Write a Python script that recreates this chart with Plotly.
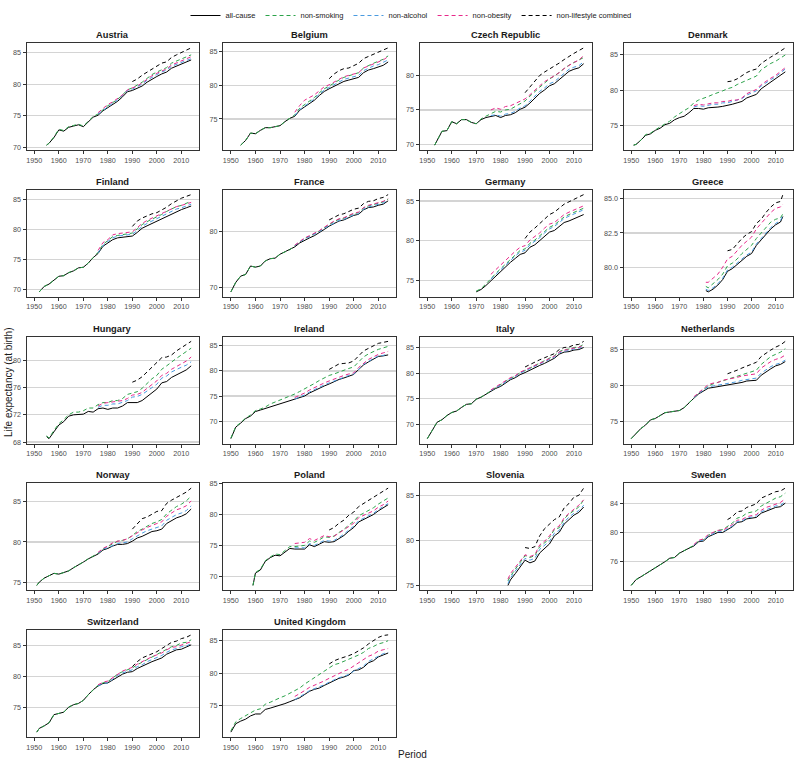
import plotly.graph_objects as go

# ---------------- data (life expectancy at birth) ----------------
# all-cause / non-smoking series start at the country's first year,
# non-alcohol / non-obesity from 1976 (or first year), combined from 1990.
AT_start, AT_end = 1955, 2014
AT_all = [70.4, 70.7, 71.6, 72.8, 72.6, 73.2, 73.4, 73.6, 73.3, 74.0, 74.8, 75.1, 75.8, 76.3, 76.8, 77.3, 78.0, 78.8, 79.0, 79.3, 79.7, 80.3, 80.8, 81.2, 81.6, 81.9, 82.5, 82.8, 83.1, 83.4, 83.8]
AT_smk = [70.4, 70.7, 71.7, 72.9, 72.7, 73.3, 73.5, 73.7, 73.4, 74.1, 74.9, 75.3, 76.0, 76.6, 77.1, 77.6, 78.3, 79.1, 79.4, 79.8, 80.3, 80.9, 81.5, 81.9, 82.3, 82.6, 83.3, 83.6, 84.0, 84.2, 84.6]
AT_alc = [75.3, 75.9, 76.5, 77.0, 77.5, 78.2, 79.0, 79.2, 79.6, 80.0, 80.6, 81.1, 81.5, 81.9, 82.2, 82.8, 83.1, 83.5, 83.7, 84.0]
AT_obe = [75.5, 76.2, 76.8, 77.2, 77.7, 78.3, 79.1, 79.4, 79.7, 80.2, 80.8, 81.3, 81.7, 82.1, 82.4, 83.0, 83.3, 83.7, 84.0, 84.3]
AT_comb = [80.4, 80.8, 81.4, 81.9, 82.4, 82.9, 83.3, 83.5, 84.2, 84.6, 85.0, 85.3, 85.7]
AT_ticks = [70, 75, 80, 85]

BE_start, BE_end = 1954, 2014
BE_all = [71.1, 71.8, 72.9, 72.8, 73.3, 73.7, 73.7, 73.9, 74.0, 74.6, 75.1, 75.4, 76.3, 76.8, 77.3, 77.8, 78.5, 79.1, 79.5, 79.9, 80.2, 80.6, 80.8, 81.0, 81.2, 81.9, 82.3, 82.5, 82.8, 83.0, 83.5]
BE_smk = [71.1, 71.8, 72.9, 72.8, 73.3, 73.7, 73.7, 73.9, 74.0, 74.6, 75.1, 75.6, 76.6, 77.1, 77.6, 78.2, 78.9, 79.5, 79.9, 80.4, 80.8, 81.2, 81.4, 81.6, 81.9, 82.6, 83.0, 83.3, 83.6, 83.9, 84.4]
BE_alc = [75.5, 76.4, 76.9, 77.4, 78.0, 78.7, 79.3, 79.7, 80.1, 80.5, 80.9, 81.1, 81.3, 81.5, 82.2, 82.6, 82.9, 83.1, 83.4, 83.8]
BE_obe = [76.0, 77.0, 77.8, 78.2, 78.6, 79.2, 79.8, 80.1, 80.5, 80.9, 81.3, 81.5, 81.7, 81.9, 82.6, 82.9, 83.2, 83.5, 83.8, 84.3]
BE_comb = [81.0, 81.7, 82.2, 82.5, 82.6, 82.9, 83.3, 84.0, 84.3, 84.6, 85.0, 85.2, 85.6]
BE_ticks = [75, 80, 85]

CZ_start, CZ_end = 1953, 2014
CZ_all = [69.9, 70.6, 71.9, 72.0, 73.3, 73.0, 73.6, 73.6, 73.2, 73.0, 73.6, 73.9, 74.1, 74.2, 73.9, 74.2, 74.3, 74.6, 75.1, 75.4, 76.0, 76.7, 77.4, 77.9, 78.5, 78.8, 79.4, 80.0, 80.6, 80.9, 81.1, 81.7]
CZ_smk = [69.9, 70.6, 71.9, 72.0, 73.3, 73.0, 73.6, 73.6, 73.2, 73.0, 73.7, 74.1, 74.5, 74.8, 74.7, 75.0, 75.1, 75.5, 75.9, 76.3, 77.0, 77.7, 78.3, 78.9, 79.5, 79.9, 80.5, 81.0, 81.5, 81.9, 82.2, 82.6]
CZ_alc = [74.2, 74.3, 74.1, 74.4, 74.5, 74.8, 75.3, 75.6, 76.3, 77.0, 77.7, 78.2, 78.8, 79.1, 79.7, 80.3, 80.9, 81.2, 81.4, 82.0]
CZ_obe = [75.0, 75.3, 75.1, 75.5, 75.6, 75.9, 76.3, 76.6, 77.2, 77.9, 78.5, 79.1, 79.5, 79.9, 80.4, 81.0, 81.5, 81.9, 82.2, 82.9]
CZ_comb = [77.5, 78.3, 79.2, 80.0, 80.5, 80.9, 81.3, 81.8, 82.3, 82.8, 83.2, 83.6, 84.0]
CZ_ticks = [70, 75, 80]

DK_start, DK_end = 1951, 2014
DK_all = [72.2, 72.3, 72.9, 73.6, 73.8, 74.3, 74.6, 75.1, 75.3, 75.8, 76.1, 76.3, 76.8, 77.4, 77.4, 77.3, 77.5, 77.5, 77.6, 77.7, 77.8, 78.0, 78.2, 78.4, 78.9, 79.1, 79.4, 80.2, 80.7, 81.1, 81.6, 82.1, 82.6]
DK_smk = [72.2, 72.3, 72.9, 73.7, 73.9, 74.4, 74.8, 75.2, 75.6, 76.2, 76.7, 77.1, 77.5, 78.2, 78.6, 78.8, 79.1, 79.4, 79.6, 79.9, 80.2, 80.4, 80.8, 81.1, 81.5, 81.8, 82.0, 82.9, 83.4, 83.8, 84.1, 84.5, 85.0]
DK_alc = [77.6, 77.8, 77.7, 77.9, 78.0, 78.0, 78.2, 78.2, 78.4, 78.5, 78.8, 79.3, 79.6, 79.9, 80.6, 81.1, 81.5, 81.9, 82.4, 83.0]
DK_obe = [77.8, 78.0, 77.9, 78.1, 78.2, 78.2, 78.4, 78.4, 78.6, 78.6, 78.9, 79.5, 79.8, 80.1, 80.8, 81.3, 81.7, 82.1, 82.6, 83.2]
DK_comb = [81.2, 81.3, 81.6, 82.1, 82.5, 82.8, 83.0, 83.8, 84.3, 84.7, 85.1, 85.5, 86.0]
DK_ticks = [75, 80, 85]

FI_start, FI_end = 1952, 2014
FI_all = [69.6, 70.5, 70.9, 71.6, 72.2, 72.3, 72.8, 73.1, 73.6, 73.7, 74.4, 75.3, 76.0, 77.2, 77.8, 78.3, 78.6, 78.7, 78.7, 78.9, 79.5, 80.2, 80.6, 81.0, 81.3, 81.7, 82.2, 82.6, 83.0, 83.3, 83.6, 83.9]
FI_smk = [69.6, 70.5, 70.9, 71.6, 72.2, 72.3, 72.8, 73.1, 73.6, 73.7, 74.4, 75.3, 76.2, 77.5, 78.1, 78.8, 79.0, 79.1, 79.2, 79.4, 80.1, 80.8, 81.3, 81.7, 82.0, 82.5, 83.0, 83.4, 83.8, 84.0, 84.3, 84.7]
FI_alc = [76.1, 77.3, 78.0, 78.6, 78.9, 79.0, 79.0, 79.2, 79.8, 80.5, 81.0, 81.4, 81.7, 82.2, 82.6, 83.0, 83.4, 83.6, 83.9, 84.2]
FI_obe = [76.5, 77.8, 78.3, 79.1, 79.3, 79.4, 79.4, 79.6, 80.3, 81.0, 81.5, 81.9, 82.2, 82.6, 83.1, 83.5, 83.8, 84.0, 84.2, 84.5]
FI_comb = [80.5, 81.4, 81.9, 82.3, 82.6, 82.8, 83.2, 83.7, 84.3, 84.8, 85.2, 85.5, 85.8]
FI_ticks = [70, 75, 80, 85]

FR_start, FR_end = 1950, 2014
FR_all = [69.2, 70.9, 72.0, 72.3, 73.8, 73.6, 73.8, 74.7, 75.1, 75.2, 75.9, 76.3, 76.7, 77.2, 77.9, 78.4, 78.8, 79.2, 79.7, 80.3, 80.9, 81.4, 81.8, 82.0, 82.4, 82.8, 83.0, 83.8, 84.2, 84.3, 84.6, 84.8, 85.4]
FR_smk = [69.2, 70.9, 72.0, 72.3, 73.8, 73.6, 73.8, 74.7, 75.1, 75.2, 75.9, 76.3, 76.7, 77.4, 78.1, 78.7, 79.1, 79.5, 80.0, 80.6, 81.2, 81.7, 82.1, 82.3, 82.7, 83.1, 83.3, 84.1, 84.5, 84.7, 85.0, 85.2, 85.7]
FR_alc = [77.4, 78.1, 78.6, 79.0, 79.4, 79.9, 80.5, 81.0, 81.5, 81.9, 82.1, 82.5, 82.9, 83.1, 83.9, 84.3, 84.5, 84.8, 85.0, 85.5]
FR_obe = [77.5, 78.2, 78.8, 79.2, 79.6, 80.1, 80.7, 81.3, 81.8, 82.2, 82.4, 82.8, 83.2, 83.4, 84.2, 84.6, 84.8, 85.1, 85.3, 85.8]
FR_comb = [82.0, 82.5, 82.9, 83.1, 83.5, 83.9, 84.1, 84.9, 85.3, 85.4, 85.8, 86.0, 86.5]
FR_ticks = [70, 80]

DE_start, DE_end = 1970, 2014
DE_all = [73.6, 73.9, 74.4, 75.0, 75.6, 76.1, 76.7, 77.3, 77.8, 78.3, 78.5, 79.2, 79.5, 80.0, 80.6, 81.1, 81.3, 81.8, 82.3, 82.5, 82.8, 83.0, 83.3]
DE_smk = [73.7, 74.0, 74.6, 75.3, 75.9, 76.5, 77.1, 77.7, 78.2, 78.8, 79.0, 79.7, 80.1, 80.6, 81.2, 81.7, 82.0, 82.5, 83.0, 83.3, 83.6, 83.8, 84.1]
DE_alc = [75.2, 75.8, 76.4, 77.0, 77.6, 78.1, 78.6, 78.8, 79.5, 79.9, 80.4, 81.0, 81.5, 81.8, 82.3, 82.8, 83.1, 83.4, 83.6, 83.9]
DE_obe = [75.8, 76.4, 77.0, 77.6, 78.2, 78.7, 79.2, 79.4, 80.1, 80.5, 81.0, 81.6, 82.1, 82.3, 82.8, 83.3, 83.6, 83.9, 84.1, 84.4]
DE_comb = [80.3, 81.1, 81.6, 82.2, 82.8, 83.3, 83.6, 84.1, 84.6, 84.9, 85.2, 85.4, 85.8]
DE_ticks = [75, 80, 85]

GR_start, GR_end = 1981, 2013
GR_all = [78.3, 78.2, 78.4, 78.7, 79.1, 79.7, 79.9, 80.2, 80.5, 80.8, 81.0, 81.6, 82.0, 82.4, 82.8, 83.1, 83.3, 83.7]
GR_smk = [78.6, 78.5, 78.8, 79.1, 79.5, 80.1, 80.3, 80.6, 81.0, 81.3, 81.6, 82.1, 82.5, 82.9, 83.3, 83.5, 83.6, 83.9]
GR_alc = [78.4, 78.3, 78.5, 78.8, 79.2, 79.8, 80.0, 80.3, 80.6, 80.9, 81.1, 81.7, 82.1, 82.5, 82.9, 83.2, 83.4, 83.8]
GR_obe = [78.9, 78.9, 79.2, 79.5, 80.0, 80.6, 80.8, 81.2, 81.6, 81.9, 82.2, 82.8, 83.2, 83.6, 84.0, 84.3, 84.4, 84.6]
GR_comb = [81.2, 81.3, 81.7, 82.1, 82.4, 82.6, 83.2, 83.5, 84.0, 84.4, 84.7, 84.8, 85.3]
GR_ticks = [80.0, 82.5, 85.0]

HU_start, HU_end = 1955, 2014
HU_all = [68.8, 68.5, 69.5, 70.5, 71.0, 71.8, 72.0, 72.0, 72.1, 72.5, 72.4, 72.9, 73.0, 72.8, 73.0, 73.0, 73.3, 73.8, 73.8, 73.8, 74.1, 74.7, 75.3, 75.8, 76.7, 76.9, 77.5, 77.9, 78.2, 78.6, 79.2]
HU_smk = [68.9, 68.6, 69.7, 70.7, 71.3, 72.0, 72.4, 72.4, 72.6, 73.0, 73.0, 73.5, 73.8, 73.8, 74.1, 74.1, 74.4, 75.0, 75.2, 75.4, 75.9, 76.6, 77.3, 77.8, 78.7, 79.2, 79.8, 80.3, 80.8, 81.3, 81.8]
HU_alc = [73.1, 73.4, 73.4, 73.6, 73.6, 73.8, 74.1, 74.6, 74.7, 75.0, 75.5, 76.0, 76.5, 77.4, 77.7, 78.3, 78.7, 79.0, 79.3, 79.8]
HU_obe = [73.3, 73.7, 73.8, 73.9, 74.0, 74.1, 74.4, 74.9, 75.0, 75.3, 75.9, 76.5, 77.0, 77.8, 78.1, 78.7, 79.1, 79.5, 79.9, 80.5]
HU_comb = [76.8, 77.1, 77.6, 78.3, 79.0, 79.6, 80.4, 80.5, 80.8, 81.4, 81.9, 82.3, 82.8]
HU_ticks = [68, 72, 76, 80]

IE_start, IE_end = 1950, 2014
IE_all = [66.5, 68.8, 69.6, 70.5, 71.0, 71.9, 72.2, 72.5, 72.8, 73.2, 73.5, 73.7, 74.1, 74.3, 74.6, 75.0, 75.6, 76.1, 76.5, 77.0, 77.4, 77.9, 78.3, 78.6, 79.0, 79.3, 80.3, 81.2, 81.8, 82.4, 82.9, 83.0, 83.2]
IE_smk = [66.6, 68.9, 69.7, 70.6, 71.2, 72.1, 72.4, 72.8, 73.4, 73.8, 74.1, 74.6, 74.9, 75.4, 75.9, 76.4, 77.0, 77.5, 78.1, 78.6, 79.1, 79.4, 79.8, 80.2, 80.5, 80.8, 81.9, 82.8, 83.4, 83.9, 84.3, 84.6, 84.9]
IE_alc = [74.4, 74.8, 75.2, 75.8, 76.3, 76.7, 77.2, 77.6, 78.0, 78.3, 78.7, 79.1, 79.4, 80.4, 81.3, 81.9, 82.5, 83.0, 83.1, 83.4]
IE_obe = [74.7, 75.1, 75.6, 76.2, 76.7, 77.1, 77.6, 78.0, 78.4, 78.7, 79.1, 79.4, 79.6, 80.7, 81.6, 82.3, 82.8, 83.3, 83.6, 83.9]
IE_comb = [80.3, 80.9, 81.4, 81.5, 81.6, 82.0, 83.0, 84.0, 84.5, 85.0, 85.5, 85.7, 85.9]
IE_ticks = [70, 75, 80, 85]

IT_start, IT_end = 1950, 2014
IT_all = [67.2, 68.9, 70.4, 70.9, 71.7, 72.3, 72.6, 73.3, 73.9, 74.0, 74.9, 75.3, 75.9, 76.4, 77.0, 77.4, 78.1, 78.7, 79.1, 79.7, 80.1, 80.6, 81.1, 81.5, 81.9, 82.4, 82.9, 83.7, 84.1, 84.2, 84.5, 84.6, 85.0]
IT_smk = [67.2, 68.9, 70.4, 70.9, 71.7, 72.3, 72.6, 73.3, 73.9, 74.0, 74.9, 75.3, 75.9, 76.6, 77.2, 77.7, 78.4, 79.0, 79.4, 80.1, 80.5, 81.0, 81.5, 81.9, 82.4, 82.9, 83.4, 84.2, 84.6, 84.7, 85.0, 85.1, 85.6]
IT_alc = [76.6, 77.2, 77.6, 78.3, 78.9, 79.3, 80.0, 80.4, 80.9, 81.4, 81.8, 82.2, 82.7, 83.1, 83.9, 84.3, 84.4, 84.7, 84.8, 85.3]
IT_obe = [76.7, 77.3, 77.8, 78.5, 79.1, 79.5, 80.2, 80.6, 81.1, 81.5, 81.9, 82.4, 82.9, 83.3, 84.1, 84.5, 84.6, 84.9, 85.0, 85.5]
IT_comb = [81.2, 81.7, 82.2, 82.6, 83.0, 83.4, 83.8, 84.6, 85.0, 85.1, 85.5, 85.6, 86.2]
IT_ticks = [70, 75, 80, 85]

NL_start, NL_end = 1950, 2014
NL_all = [72.6, 73.3, 74.0, 74.5, 75.2, 75.4, 75.8, 76.2, 76.3, 76.4, 76.5, 76.9, 77.6, 78.2, 78.8, 79.2, 79.6, 79.7, 79.8, 80.0, 80.1, 80.2, 80.3, 80.4, 80.6, 80.6, 80.7, 81.4, 81.9, 82.3, 82.7, 82.9, 83.3]
NL_smk = [72.6, 73.3, 74.0, 74.5, 75.2, 75.4, 75.8, 76.2, 76.3, 76.4, 76.5, 76.9, 77.6, 78.3, 78.9, 79.4, 79.9, 80.2, 80.4, 80.6, 80.8, 81.0, 81.2, 81.5, 81.7, 81.9, 82.1, 82.9, 83.5, 84.0, 84.3, 84.6, 85.1]
NL_alc = [78.3, 78.9, 79.3, 79.8, 79.9, 80.0, 80.2, 80.3, 80.4, 80.5, 80.7, 80.8, 80.9, 81.0, 81.7, 82.2, 82.6, 82.9, 83.1, 83.5]
NL_obe = [78.4, 79.0, 79.6, 80.1, 80.3, 80.4, 80.7, 80.8, 81.0, 81.1, 81.3, 81.4, 81.5, 81.6, 82.4, 82.9, 83.3, 83.6, 83.8, 84.2]
NL_comb = [81.6, 81.8, 82.1, 82.4, 82.7, 82.9, 83.2, 84.0, 84.5, 84.9, 85.3, 85.6, 86.1]
NL_ticks = [75, 80, 85]

NO_start, NO_end = 1951, 2014
NO_all = [74.6, 75.0, 75.5, 75.8, 76.1, 76.0, 76.2, 76.4, 76.8, 77.1, 77.5, 77.9, 78.2, 78.5, 79.0, 79.2, 79.5, 79.7, 79.7, 79.8, 80.1, 80.5, 80.7, 81.0, 81.3, 81.4, 81.6, 82.3, 82.7, 83.0, 83.2, 83.5, 84.1]
NO_smk = [74.6, 75.0, 75.5, 75.8, 76.1, 76.0, 76.2, 76.4, 76.8, 77.1, 77.5, 77.9, 78.2, 78.6, 79.1, 79.4, 79.8, 80.1, 80.2, 80.4, 80.8, 81.3, 81.6, 82.0, 82.3, 82.5, 82.8, 83.5, 84.0, 84.4, 84.7, 85.1, 85.7]
NO_alc = [78.6, 79.1, 79.3, 79.6, 79.8, 79.9, 80.0, 80.4, 80.8, 81.1, 81.4, 81.6, 81.8, 82.0, 82.7, 83.1, 83.4, 83.6, 83.9, 84.5]
NO_obe = [78.7, 79.2, 79.5, 79.9, 80.1, 80.2, 80.4, 80.8, 81.2, 81.5, 81.8, 82.1, 82.3, 82.5, 83.2, 83.6, 84.0, 84.2, 84.5, 85.1]
NO_comb = [81.6, 82.3, 82.9, 83.1, 83.5, 83.8, 83.9, 84.8, 85.2, 85.5, 85.9, 86.2, 86.7]
NO_ticks = [75, 80, 85]

PL_start, PL_end = 1959, 2014
PL_all = [68.5, 70.5, 71.0, 72.4, 73.0, 73.4, 73.3, 73.9, 74.5, 74.4, 74.4, 74.4, 75.1, 74.8, 75.2, 75.6, 75.5, 75.6, 76.1, 76.6, 77.3, 77.9, 78.8, 79.2, 79.6, 80.0, 80.6, 81.1, 81.6]
PL_smk = [68.5, 70.6, 71.1, 72.5, 73.1, 73.6, 73.5, 74.1, 74.8, 74.8, 74.9, 75.0, 75.7, 75.5, 75.9, 76.4, 76.3, 76.5, 77.1, 77.6, 78.3, 78.9, 79.8, 80.2, 80.7, 81.1, 81.7, 82.2, 82.7]
PL_alc = [74.6, 74.6, 74.6, 75.3, 75.0, 75.4, 75.8, 75.7, 75.8, 76.3, 76.8, 77.5, 78.1, 79.0, 79.4, 79.8, 80.2, 80.8, 81.3, 81.8]
PL_obe = [75.3, 75.4, 75.5, 76.1, 75.8, 76.2, 76.6, 76.4, 76.5, 77.0, 77.5, 78.1, 78.6, 79.5, 79.9, 80.3, 80.6, 81.2, 81.6, 82.2]
PL_comb = [77.5, 77.9, 78.6, 79.1, 79.9, 80.4, 81.3, 81.8, 82.3, 82.8, 83.4, 83.9, 84.3]
PL_ticks = [70, 75, 80, 85]

SI_start, SI_end = 1983, 2014
SI_all = [75.0, 75.6, 76.3, 77.0, 77.8, 77.5, 77.7, 78.6, 79.1, 79.6, 80.5, 80.9, 81.8, 82.3, 82.8, 83.1, 83.7]
SI_smk = [75.5, 76.0, 76.8, 77.5, 78.3, 78.1, 78.3, 79.3, 79.7, 80.3, 81.2, 81.4, 82.4, 82.9, 83.3, 83.7, 84.5]
SI_alc = [75.2, 75.8, 76.6, 77.3, 78.0, 77.8, 78.0, 79.0, 79.4, 79.9, 80.8, 81.1, 82.0, 82.6, 83.0, 83.3, 83.9]
SI_obe = [75.7, 76.3, 77.0, 77.7, 78.4, 78.2, 78.4, 79.5, 79.9, 80.5, 81.3, 81.6, 82.5, 83.0, 83.4, 83.9, 84.5]
SI_comb = [79.2, 79.1, 79.3, 80.5, 81.3, 81.8, 82.3, 82.6, 83.6, 84.1, 84.8, 85.0, 85.8]
SI_ticks = [75, 80, 85]

SE_start, SE_end = 1950, 2014
SE_all = [72.6, 73.4, 73.8, 74.2, 74.6, 75.0, 75.4, 75.9, 76.4, 76.5, 77.1, 77.5, 77.8, 78.1, 78.7, 78.8, 79.4, 79.7, 80.0, 80.0, 80.4, 80.8, 81.4, 81.5, 81.9, 82.0, 82.1, 82.7, 83.0, 83.2, 83.5, 83.6, 84.1]
SE_smk = [72.6, 73.4, 73.8, 74.2, 74.6, 75.0, 75.4, 75.9, 76.4, 76.5, 77.1, 77.5, 77.8, 78.2, 78.8, 79.0, 79.6, 80.0, 80.3, 80.4, 80.8, 81.3, 82.0, 82.2, 82.7, 82.9, 83.0, 83.7, 84.1, 84.4, 84.8, 85.0, 85.5]
SE_alc = [78.2, 78.8, 78.9, 79.5, 79.8, 80.1, 80.1, 80.5, 80.9, 81.5, 81.6, 82.0, 82.2, 82.3, 82.9, 83.2, 83.4, 83.7, 83.8, 84.3]
SE_obe = [78.3, 78.9, 79.1, 79.7, 80.0, 80.3, 80.3, 80.7, 81.1, 81.7, 81.8, 82.2, 82.4, 82.5, 83.1, 83.5, 83.7, 84.0, 84.2, 84.7]
SE_comb = [81.8, 82.2, 82.9, 83.0, 83.5, 83.8, 84.0, 84.8, 85.1, 85.4, 85.7, 85.8, 86.2]
SE_ticks = [76, 80, 84]

CH_start, CH_end = 1951, 2014
CH_all = [71.1, 71.7, 72.1, 72.6, 73.9, 74.1, 74.3, 75.1, 75.5, 75.7, 76.2, 77.1, 77.9, 78.5, 78.9, 79.0, 79.5, 80.0, 80.4, 80.7, 80.8, 81.3, 81.7, 82.1, 82.4, 82.7, 83.0, 83.6, 84.0, 84.3, 84.4, 84.7, 85.1]
CH_smk = [71.1, 71.7, 72.1, 72.6, 73.9, 74.1, 74.3, 75.1, 75.5, 75.7, 76.2, 77.1, 77.9, 78.6, 79.0, 79.2, 79.8, 80.4, 80.8, 81.1, 81.4, 81.9, 82.3, 82.8, 83.1, 83.5, 83.9, 84.4, 84.8, 85.0, 85.4, 85.5, 85.9]
CH_alc = [78.5, 78.9, 79.0, 79.6, 80.2, 80.6, 80.9, 81.1, 81.6, 81.9, 82.4, 82.7, 83.0, 83.4, 83.9, 84.3, 84.5, 84.8, 84.9, 85.3]
CH_obe = [78.7, 79.1, 79.3, 79.8, 80.4, 80.9, 81.2, 81.5, 82.0, 82.4, 82.9, 83.2, 83.5, 83.8, 84.3, 84.7, 84.8, 85.1, 85.3, 85.6]
CH_comb = [81.6, 82.4, 83.0, 83.3, 83.6, 84.0, 84.5, 85.0, 85.5, 85.7, 86.1, 86.3, 86.7]
CH_ticks = [75, 80, 85]

UK_start, UK_end = 1950, 2014
UK_all = [70.9, 72.2, 72.6, 72.9, 73.4, 73.7, 73.7, 74.4, 74.6, 74.8, 75.1, 75.3, 75.6, 75.9, 76.2, 76.7, 77.2, 77.5, 77.7, 78.1, 78.5, 78.9, 79.2, 79.4, 79.7, 80.4, 80.5, 80.9, 81.6, 81.9, 82.5, 82.8, 83.1]
UK_smk = [71.1, 72.5, 73.0, 73.4, 73.9, 74.3, 74.5, 75.2, 75.5, 75.9, 76.2, 76.5, 76.9, 77.3, 77.7, 78.3, 78.8, 79.3, 79.7, 80.3, 80.8, 81.3, 81.5, 81.8, 82.1, 82.4, 82.8, 83.2, 83.8, 84.1, 84.5, 84.7, 85.0]
UK_alc = [75.9, 76.3, 76.8, 77.3, 77.6, 77.8, 78.2, 78.6, 79.0, 79.3, 79.5, 79.8, 80.3, 80.7, 81.1, 81.8, 82.2, 82.7, 83.0, 83.2]
UK_obe = [76.4, 76.8, 77.3, 77.8, 78.1, 78.4, 78.8, 79.2, 79.6, 80.0, 80.3, 80.6, 81.1, 81.5, 82.0, 82.6, 82.9, 83.4, 83.6, 83.8]
UK_comb = [81.4, 81.9, 82.2, 82.4, 82.7, 83.0, 83.4, 83.9, 84.5, 85.0, 85.5, 85.8, 85.9]
UK_ticks = [70, 75, 80, 85]

SERIES_NAMES = ["all-cause", "non-smoking", "non-alcohol", "non-obesity", "non-lifestyle combined"]
SERIES_COLORS = ["#000000", "#2ca34a", "#4a9be0", "#e7298a", "#000000"]
SERIES_DASH = ["solid", "4px,3px", "4px,3px", "4px,3px", "4px,3px"]
X_TICKS = [1950, 1960, 1970, 1980, 1990, 2000, 2010]

COUNTRIES = [
    ("Austria", AT_start, AT_end, [AT_all, AT_smk, AT_alc, AT_obe, AT_comb], AT_ticks),
    ("Belgium", BE_start, BE_end, [BE_all, BE_smk, BE_alc, BE_obe, BE_comb], BE_ticks),
    ("Czech Republic", CZ_start, CZ_end, [CZ_all, CZ_smk, CZ_alc, CZ_obe, CZ_comb], CZ_ticks),
    ("Denmark", DK_start, DK_end, [DK_all, DK_smk, DK_alc, DK_obe, DK_comb], DK_ticks),
    ("Finland", FI_start, FI_end, [FI_all, FI_smk, FI_alc, FI_obe, FI_comb], FI_ticks),
    ("France", FR_start, FR_end, [FR_all, FR_smk, FR_alc, FR_obe, FR_comb], FR_ticks),
    ("Germany", DE_start, DE_end, [DE_all, DE_smk, DE_alc, DE_obe, DE_comb], DE_ticks),
    ("Greece", GR_start, GR_end, [GR_all, GR_smk, GR_alc, GR_obe, GR_comb], GR_ticks),
    ("Hungary", HU_start, HU_end, [HU_all, HU_smk, HU_alc, HU_obe, HU_comb], HU_ticks),
    ("Ireland", IE_start, IE_end, [IE_all, IE_smk, IE_alc, IE_obe, IE_comb], IE_ticks),
    ("Italy", IT_start, IT_end, [IT_all, IT_smk, IT_alc, IT_obe, IT_comb], IT_ticks),
    ("Netherlands", NL_start, NL_end, [NL_all, NL_smk, NL_alc, NL_obe, NL_comb], NL_ticks),
    ("Norway", NO_start, NO_end, [NO_all, NO_smk, NO_alc, NO_obe, NO_comb], NO_ticks),
    ("Poland", PL_start, PL_end, [PL_all, PL_smk, PL_alc, PL_obe, PL_comb], PL_ticks),
    ("Slovenia", SI_start, SI_end, [SI_all, SI_smk, SI_alc, SI_obe, SI_comb], SI_ticks),
    ("Sweden", SE_start, SE_end, [SE_all, SE_smk, SE_alc, SE_obe, SE_comb], SE_ticks),
    ("Switzerland", CH_start, CH_end, [CH_all, CH_smk, CH_alc, CH_obe, CH_comb], CH_ticks),
    ("United Kingdom", UK_start, UK_end, [UK_all, UK_smk, UK_alc, UK_obe, UK_comb], UK_ticks),
]


def year_grid(start, end):
    ys = [start]
    y = start + 1 if start % 2 else start + 2
    while y < end:
        ys.append(y)
        y += 2
    if ys[-1] != end:
        ys.append(end)
    return ys


# ---------------- layout geometry (pixels) ----------------
W, H = 798, 761
COL_X = [(26.5, 199), (223, 396), (419.5, 591.5), (623.5, 793)]
ROW_TOP = [43, 189.75, 336.5, 483.25, 630]
PANEL_H = 107
X_RANGE = [1946.8, 2017.2]

FONT = "Liberation Sans, Arial, sans-serif"
BORDER = "#333333"
GRID = "#d4d4d4"
TICKLAB = "#4d4d4d"
TICKFONT = dict(size=7.2, color=TICKLAB, family=FONT)

fig = go.Figure()
layout = dict(
    width=W, height=H, autosize=False,
    margin=dict(l=0, r=0, t=0, b=0, pad=0),
    paper_bgcolor="white", plot_bgcolor="white",
    font=dict(family=FONT, color="#1a1a1a"),
    showlegend=True,
    legend=dict(orientation="h", x=411 / W, xanchor="center", y=1 - 1 / H, yanchor="top",
                font=dict(size=7.5, family=FONT, color="#1a1a1a"), itemwidth=30,
                tracegroupgap=0, bgcolor="rgba(0,0,0,0)", borderwidth=0),
)
annotations = []

for i, (name, start, end, series, ticks) in enumerate(COUNTRIES):
    r, c = divmod(i, 4)
    n = "" if i == 0 else str(i + 1)
    x0, x1 = COL_X[c]
    top = ROW_TOP[r]
    bot = top + PANEL_H
    yrs = year_grid(start, end)
    allv = [v for s in series for v in s]
    lo, hi = min(allv), max(allv)
    pad = 0.05 * (hi - lo)
    for k, vals in enumerate(series):
        fig.add_trace(go.Scatter(
            x=yrs[-len(vals):], y=vals, mode="lines",
            name=SERIES_NAMES[k], legendgroup=SERIES_NAMES[k], showlegend=(i == 0),
            line=dict(color=SERIES_COLORS[k], width=1, dash=SERIES_DASH[k]),
            xaxis="x" + n, yaxis="y" + n, hoverinfo="skip",
        ))
    layout["xaxis" + n] = dict(
        domain=[x0 / W, x1 / W], anchor="y" + n, range=X_RANGE,
        tickvals=X_TICKS, showgrid=False, zeroline=False,
        showline=True, mirror=True, linecolor=BORDER, linewidth=1,
        ticks="outside", ticklen=3, tickwidth=1, tickcolor=BORDER,
        tickfont=TICKFONT, automargin=False,
    )
    layout["yaxis" + n] = dict(
        domain=[1 - bot / H, 1 - top / H], anchor="x" + n, range=[lo - pad, hi + pad],
        tickvals=ticks, tickformat=(".1f" if name == "Greece" else ""),
        showgrid=True, gridcolor=GRID, gridwidth=1.1, zeroline=False,
        showline=True, mirror=True, linecolor=BORDER, linewidth=1,
        ticks="outside", ticklen=3, tickwidth=1, tickcolor=BORDER,
        tickfont=TICKFONT, automargin=False,
    )
    annotations.append(dict(
        text="<b>" + name + "</b>", x=(x0 + x1) / 2 / W, y=1 - (top - 8) / H,
        xref="paper", yref="paper", xanchor="center", yanchor="middle",
        showarrow=False, font=dict(size=9.3, family=FONT, color="#1a1a1a"),
    ))

annotations.append(dict(text="Period", x=412 / W, y=1 - 754 / H, xref="paper", yref="paper",
                        xanchor="center", yanchor="middle", showarrow=False,
                        font=dict(size=10, family=FONT, color="#1a1a1a")))
annotations.append(dict(text="Life expectancy (at birth)", x=8 / W, y=1 - 382 / H,
                        xref="paper", yref="paper", xanchor="center", yanchor="middle",
                        textangle=-90, showarrow=False,
                        font=dict(size=10, family=FONT, color="#1a1a1a")))
layout["annotations"] = annotations
fig.update_layout(**layout)
fig.write_html("out.html", config={"displayModeBar": False, "staticPlot": True},
               post_script="document.body.style.margin='0px';document.body.style.overflow='hidden';")
